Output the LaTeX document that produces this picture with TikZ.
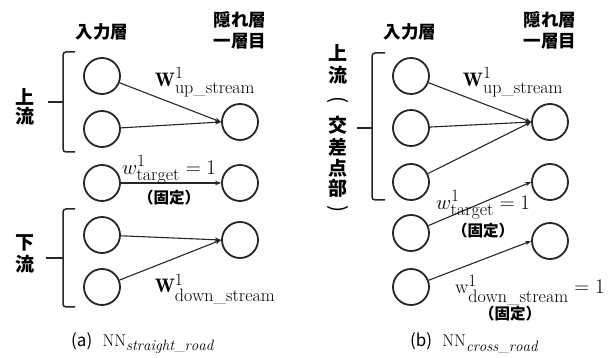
\documentclass[tikz,border=0pt]{standalone}
\usepackage{fontspec}
\usepackage{amsmath}
\newfontfamily\jp{Noto Sans CJK JP}
\DeclareMathSizes{19.5}{19.5}{18}{12}
\DeclareMathSizes{17}{17}{15}{10}
\usetikzlibrary{arrows.meta}
\begin{document}
\begin{tikzpicture}[x=1pt,y=-1pt,
  neuron/.style={circle,draw=black!85,line width=1.8pt,minimum size=36pt,inner sep=0pt},
  conn/.style={draw=black!85,line width=1.1pt,-{Stealth[length=6pt,width=4.5pt]}},
  brk/.style={draw=black!85,line width=1.5pt},
  jlab/.style={font=\jp\bfseries\fontsize{17.5}{21}\selectfont,inner sep=0pt,align=center},
  vlab/.style={font=\jp\bfseries\fontsize{19}{19}\selectfont,inner sep=0pt},
  plab/.style={font=\jp\fontsize{21}{21}\selectfont,inner sep=0pt,rotate=-90},
  fix/.style={font=\jp\bfseries\fontsize{15.5}{18}\selectfont,inner sep=0pt},
  mlab/.style={font=\fontsize{19.5}{22}\selectfont,inner sep=0pt},
  caplab/.style={font=\fontsize{17}{20}\selectfont,inner sep=0pt,anchor=west}]
\useasboundingbox (0,0) rectangle (614,358);
% ---------- (a) ----------
\node[jlab] (inA) at (102,32) {入力層};
\node[jlab] (hidA) at (240,30) {隠れ層\\一層目};
\node[neuron] (a1) at (102,76) {};
\node[neuron] (a2) at (102,129) {};
\node[neuron] (a3) at (102,183) {};
\node[neuron] (a4) at (102,235) {};
\node[neuron] (a5) at (102,287) {};
\node[neuron] (ah1) at (240,122) {};
\node[neuron] (ah2) at (240,183) {};
\node[neuron] (ah3) at (240,240) {};
\draw[conn] (a1) -- (ah1.west);
\draw[conn] (a2) -- (ah1.west);
\draw[conn] (a3) -- (ah2.west);
\draw[conn] (a4) -- (ah3.west);
\draw[conn] (a5) -- (ah3.west);
\draw[brk,rounded corners=3pt] (75,52) -- (63,52) -- (63,152) -- (75,152);
\draw[brk] (48,102) -- (63,102);
\draw[brk,rounded corners=3pt] (75,209) -- (63,209) -- (63,307) -- (75,307);
\draw[brk] (46,258) -- (63,258);
\node[vlab] (upA1) at (25,97) {上};
\node[vlab] (upA2) at (25,116) {流};
\node[vlab] (dnA1) at (25,243) {下};
\node[vlab] (dnA2) at (25,264) {流};
\node[mlab] (wupA) at (205,82) {$\mathbf{W}^1_{\mathrm{up\_stream}}$};
\node[mlab] (wtA) at (169,170) {$w^1_{\mathrm{target}}=1$};
\node[fix] (fxA) at (169,198) {（固定）};
\node[mlab] (wdnA) at (215,289) {$\mathbf{W}^1_{\mathrm{down\_stream}}$};
\node[caplab] (capA) at (71,343) {{\jp (a)}\ \ $\mathrm{NN}_{\mathit{straight\_road}}$};
% ---------- (b) ----------
\node[jlab] (inB) at (410,32) {入力層};
\node[jlab] (hidB) at (550,30) {隠れ層\\一層目};
\node[neuron] (b1) at (411,76) {};
\node[neuron] (b2) at (411,128) {};
\node[neuron] (b3) at (411,182) {};
\node[neuron] (b4) at (411,233) {};
\node[neuron] (b5) at (411,287) {};
\node[neuron] (bh1) at (550,122) {};
\node[neuron] (bh2) at (550,182) {};
\node[neuron] (bh3) at (550,241) {};
\draw[conn] (b1) -- (bh1.west);
\draw[conn] (b2) -- (bh1.west);
\draw[conn] (b3) -- (bh1.west);
\draw[conn] (b4) -- (bh2.west);
\draw[conn] (b5) -- (bh3.west);
\draw[brk,rounded corners=3pt] (385,53) -- (372,53) -- (372,200) -- (385,200);
\draw[brk] (357,128) -- (372,128);
\node[vlab] (vb1) at (338,53) {上};
\node[vlab] (vb2) at (338,75) {流};
\node[plab] (vb3) at (338,100) {(};
\node[vlab] (vb4) at (338,125) {交};
\node[vlab] (vb5) at (338,147) {差};
\node[vlab] (vb6) at (338,168) {点};
\node[vlab] (vb7) at (338,188) {部};
\node[plab] (vb8) at (338,209) {)};
\node[mlab] (wupB) at (513,82) {$\mathbf{W}^1_{\mathrm{up\_stream}}$};
\node[mlab] (wtB) at (483,205) {$w^1_{\mathrm{target}}=1$};
\node[fix] (fxB) at (483,231) {（固定）};
\node[mlab] (wdnB) at (530,290) {$\mathrm{w}^1_{\mathrm{down\_stream}}=1$};
\node[fix] (fxB2) at (510,314) {（固定）};
\node[caplab] (capB) at (410,343) {{\jp (b)}\ \ $\mathrm{NN}_{\mathit{cross\_road}}$};
\end{tikzpicture}
\end{document}
